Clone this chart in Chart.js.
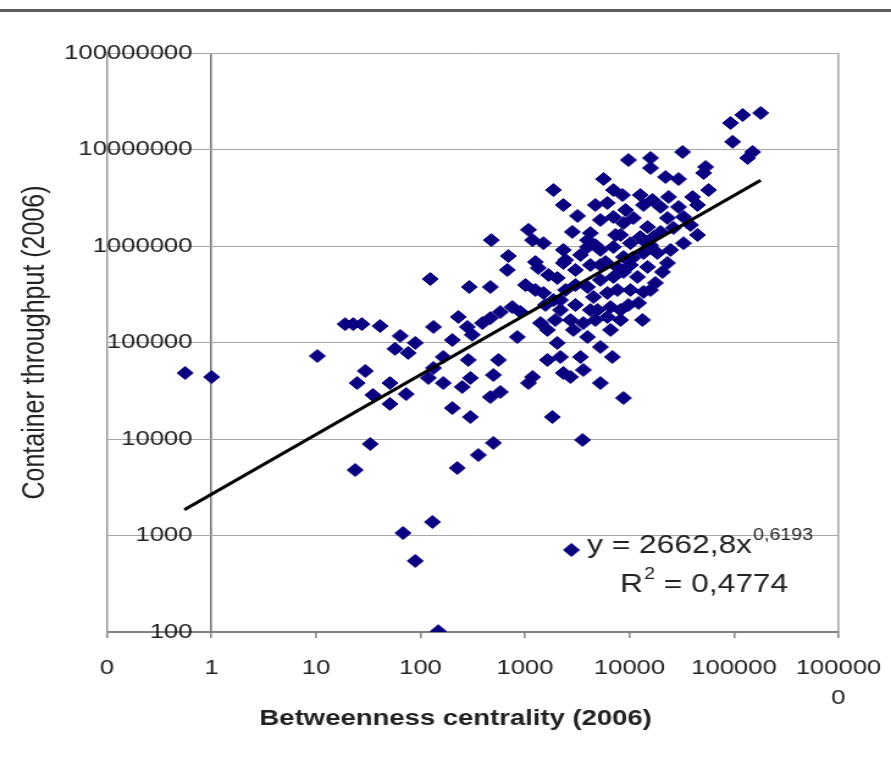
<!DOCTYPE html>
<html>
<head>
<meta charset="utf-8">
<script src="https://cdn.jsdelivr.net/npm/chart.js@4.4.0/dist/chart.umd.min.js"></script>
<style>
  html, body { margin: 0; padding: 0; background: #fff; }
  body { width: 891px; height: 758px; overflow: hidden; position: relative; }
  #frame { position: absolute; left: 0; top: 9px; width: 891px; height: 3px; background: #5c5c5c; }
  #wrap { position: absolute; left: 0; top: 0; width: 737px; height: 758px;
          transform: scaleX(1.22055); transform-origin: 0 0; }
</style>
</head>
<body>
<div id="wrap"><canvas id="chart"></canvas></div>
<div id="frame"></div>
<script>
// betweenness centrality (x) and container throughput (y)
const betweenness = [
  0.56, 1.0, 10.3, 19, 22.7, 27.5, 41, 64, 89, 57, 76, 29.6, 24.8, 51, 35, 73, 51, 33, 23.7, 68,
  89, 148, 225, 130, 2780, 358, 498,
  1870, 2330, 3180, 476, 1080, 1180, 1500, 693, 678, 1260, 1340, 2330, 2330, 3960, 124, 293, 467, 1010,
  1500, 2040, 230, 281, 313, 391, 467, 581, 757, 904, 133, 202, 165, 133, 119, 165, 251, 300, 287, 556,
  498, 467, 581, 202, 300, 845, 1180, 1080, 1640, 1830, 3550, 1410, 1640, 2040, 2180, 2330, 2720, 3620, 3400,
  180000, 121000, 92700, 97000, 135000, 151000, 32200, 9780, 15900, 15900, 22100, 29500, 53500, 51200,
  5640, 7030, 8570, 57100, 40100, 44800, 23700, 16600, 13600, 19800, 29500, 32900, 23100, 38400, 44800,
  32900, 26400, 6150, 5270, 7030, 8770, 10900, 14900, 12700, 17000, 10200, 4230, 3960, 5270, 7030, 8770,
  13600, 18500, 14900, 20700, 23100, 11900, 8770, 7030, 5270, 3960, 4520, 6150, 7670, 10200, 13600, 12200,
  13300, 6150, 6580, 4930, 3620, 3960, 5270, 6870, 5270, 8770,
  1870, 2440, 3040, 2720, 2180, 3040, 4230, 4720, 8200, 2440, 3400, 5270, 10200, 17700, 8200, 14200,
  2840, 4720, 5890, 7850, 10700, 15900, 19800, 9160, 12700, 4720, 7340, 3040, 2180, 4230, 8200, 9780,
  15900, 2910, 1950, 6580, 1570, 1260, 1680, 24700
];
const throughput = [
  48300, 43900, 72400, 155000, 155000, 155000, 148000, 117000, 99000, 86000, 78000, 50700, 38000, 38000, 28600, 29200, 23100, 8870, 4770, 1060,
  545, 102, 5000, 1380, 708, 6820, 9100,
  3800000, 2660000, 2050000, 1150000, 1470000, 1150000, 1070000, 787000, 564000, 682000, 592000, 910000, 667000, 1150000, 455000, 376000, 376000, 394000,
  326000, 466000, 184000, 145000, 120000, 159000, 179000, 207000, 233000, 207000, 145000, 106000, 70800, 54400, 42900, 38000, 34600, 42900, 65900, 65900,
  46000, 27200, 30700, 20900, 16900, 114000, 43900, 38000, 65900, 16900, 9770, 159000, 135000, 98900, 70800, 48300, 43900, 51900, 70800,
  23900000, 22800000, 18800000, 12000000, 8170000, 9420000, 9420000, 7780000, 8170000, 6430000, 5190000, 4940000, 6590000, 5700000,
  4940000, 3800000, 3370000, 3800000, 3220000, 2660000, 3220000, 3000000, 2660000, 2540000, 2540000, 2000000, 1950000, 1650000, 1300000,
  1070000, 1540000, 2790000, 1860000, 2000000, 1730000, 1950000, 1570000, 1240000, 1240000, 1070000, 1360000, 977000, 910000, 977000, 769000,
  846000, 846000, 606000, 538000, 667000, 478000, 538000, 478000, 445000, 376000, 296000, 326000, 350000, 350000, 334000, 257000,
  171000, 184000, 233000, 217000, 159000, 114000, 89800, 70800, 38000, 26600,
  275000, 350000, 245000, 171000, 217000, 564000, 635000, 171000, 217000, 716000, 807000, 635000, 635000, 414000, 1300000, 1100000,
  1400000, 1020000, 682000, 592000, 752000, 1020000, 1400000, 2360000, 3370000, 2660000, 1300000, 394000, 275000, 217000, 171000, 245000,
  350000, 135000, 171000, 135000, 245000, 350000, 500000, 910000
];

// power trendline, ends
const trendX = [0.55, 180000];
const trendY = [1850, 4800000];
const equation = ['y = 2662,8x', '0,6193'];
const rSquared = ['R', '2', ' = 0,4774'];
const xTitle = 'Betweenness centrality (2006)';
const yTitle = 'Container throughput (2006)';

const xTicks = [0.1, 1, 10, 100, 1000, 10000, 100000, 1000000];
const xTickLabels = ['0', '1', '10', '100', '1000', '10000', '100000', ['100000', '0']];
const yTicks = [100, 1000, 10000, 100000, 1000000, 10000000, 100000000];
const yTickLabels = ['100', '1000', '10000', '100000', '1000000', '10000000', '100000000'];

const FONT = '"Liberation Sans", Arial, sans-serif';
Chart.defaults.font.family = FONT;

// trendline equation and the x axis title (set a little left of centre, as in the picture)
const extraText = {
  id: 'extraText',
  afterDraw(chart) {
    const { ctx, chartArea } = chart;
    ctx.save();
    ctx.fillStyle = '#222';
    ctx.textBaseline = 'alphabetic';
    ctx.textAlign = 'left';
    let x = chartArea.right - 206;
    let y = chartArea.bottom - 79;
    ctx.font = '26px ' + FONT;
    ctx.fillText(equation[0], x, y);
    x += ctx.measureText(equation[0]).width + 1;
    ctx.font = '16px ' + FONT;
    ctx.fillText(equation[1], x, y - 13);

    x = chartArea.right - 179;
    y = chartArea.bottom - 40;
    ctx.font = '26px ' + FONT;
    ctx.fillText(rSquared[0], x, y);
    x += ctx.measureText(rSquared[0]).width + 1;
    ctx.font = '16px ' + FONT;
    ctx.fillText(rSquared[1], x, y - 13);
    x += ctx.measureText(rSquared[1]).width;
    ctx.font = '26px ' + FONT;
    ctx.fillText(rSquared[2], x, y);

    ctx.font = 'bold 22.5px ' + FONT;
    ctx.textAlign = 'center';
    ctx.textBaseline = 'middle';
    ctx.fillText(xTitle, (chartArea.left + chartArea.right) / 2 - 14, chartArea.bottom + 87);
    ctx.restore();
  }
};

new Chart(document.getElementById('chart'), {
  type: 'scatter',
  data: {
    datasets: [
      {
        label: 'trend',
        data: trendX.map((x, i) => ({ x: x, y: trendY[i] })),
        showLine: true,
        borderColor: '#000',
        borderWidth: 3,
        pointRadius: 0,
        order: 0
      },
      {
        label: 'ports',
        data: betweenness.map((x, i) => ({ x: x, y: throughput[i] })),
        pointStyle: 'rectRot',
        pointRadius: 6.5,
        backgroundColor: '#0a0080',
        borderColor: '#0a0080',
        borderWidth: 1,
        order: 1
      }
    ]
  },
  options: {
    responsive: true,
    maintainAspectRatio: false,
    animation: false,
    layout: { padding: { top: 53, right: 0, bottom: 0, left: 0 } },
    plugins: { legend: { display: false }, tooltip: { enabled: false } },
    scales: {
      x: {
        type: 'logarithmic',
        min: 0.1,
        max: 1000000,
        afterBuildTicks: s => { s.ticks = xTicks.map(v => ({ value: v })); },
        afterFit: s => { s.height = 126; },
        ticks: {
          autoSkip: false,
          maxRotation: 0,
          padding: 15,
          color: '#222',
          font: { size: 21, lineHeight: 1.45 },
          callback: v => xTickLabels[xTicks.indexOf(v)]
        },
        grid: {
          color: c => c.tick && c.tick.value === 1 ? '#7a7a7a' : (c.tick && c.tick.value === 1000000 ? '#a8a8a8' : 'rgba(0,0,0,0)'),
          lineWidth: 1.6,
          tickColor: '#8a8a8a',
          tickLength: 6
        },
        border: { display: true, color: '#808080', width: 2 },
        title: { display: false }
      },
      y: {
        type: 'logarithmic',
        min: 100,
        max: 100000000,
        afterBuildTicks: s => { s.ticks = yTicks.map(v => ({ value: v })); },
        afterFit: s => { s.width = 87.67; },
        ticks: {
          mirror: true,
          crossAlign: 'far',
          padding: -35.1,
          color: '#222',
          font: { size: 21 },
          callback: v => yTickLabels[yTicks.indexOf(v)]
        },
        grid: { color: '#a6a6a6', lineWidth: 1, drawTicks: false },
        border: { display: true, color: '#9a9a9a', width: 1.5 },
        title: {
          display: true,
          text: yTitle,
          color: '#222',
          font: { size: 25 },
          padding: { top: 14, bottom: 0 }
        }
      }
    }
  },
  plugins: [extraText]
});
</script>
</body>
</html>
